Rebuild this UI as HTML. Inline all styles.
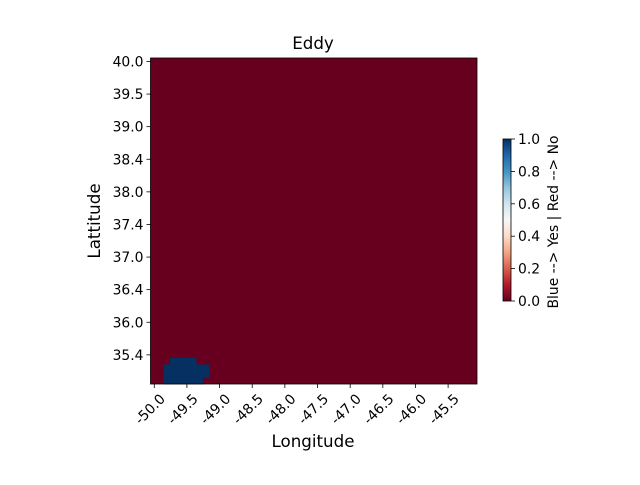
<!DOCTYPE html>
<html><head><meta charset="utf-8"><style>
body{margin:0;background:#fff;font-family:"Liberation Sans","DejaVu Sans",sans-serif;}
svg text{font-family:"DejaVu Sans","Liberation Sans",sans-serif;}
</style></head><body>
<svg id="chart" width="640" height="480" xmlns="http://www.w3.org/2000/svg">
<defs><linearGradient id="rdbu" x1="0" y1="1" x2="0" y2="0">
<stop offset="0" stop-color="#67001f"/><stop offset="0.1" stop-color="#b2182b"/><stop offset="0.2" stop-color="#d6604d"/><stop offset="0.3" stop-color="#f4a582"/><stop offset="0.4" stop-color="#fddbc7"/><stop offset="0.5" stop-color="#f7f7f7"/><stop offset="0.6" stop-color="#d1e5f0"/><stop offset="0.7" stop-color="#92c5de"/><stop offset="0.8" stop-color="#4393c3"/><stop offset="0.9" stop-color="#2166ac"/><stop offset="1" stop-color="#053061"/></linearGradient></defs>
<text x="313" y="49" text-anchor="middle" font-size="16.7">Eddy</text>
<g id="plot"></g>
<text x="313" y="447" text-anchor="middle" font-size="16.7">Longitude</text>
<text transform="translate(100,221) rotate(-90)" text-anchor="middle" font-size="16.7">Lattitude</text>
<rect x="503" y="139" width="8" height="162" fill="url(#rdbu)" stroke="#000" stroke-width="0.8"/>
<g id="cbar"></g>
<text transform="translate(558,222) rotate(-90)" text-anchor="middle" font-size="13.9">Blue --&gt; Yes | Red --&gt; No</text>
</svg>
<script>
const nCols = 50, nRows = 50;
// eddy cells: [row-from-top, colStart, colEnd inclusive]
const eddyRows = [46, 47, 48, 49];
const eddyColStart = [3, 2, 2, 2];
const eddyColEnd = [6, 8, 8, 7];
const xTickLabels = ["-50.0","-49.5","-49.0","-48.5","-48.0","-47.5","-47.0","-46.5","-46.0","-45.5"];
const xTickIdx = [0.5,5.5,10.5,15.5,20.5,25.5,30.5,35.5,40.5,45.5];
const yTickLabels = ["40.0","39.5","39.0","38.4","38.0","37.4","37.0","36.4","36.0","35.4"];
const yTickIdx = [0.5,5.5,10.5,15.5,20.5,25.5,30.5,35.5,40.5,45.5];
const cbTicks = [0.0,0.2,0.4,0.6,0.8,1.0];

const L=150.5,T=58,W=326.5,H=326;
const xs=c=>L+c*W/nCols, ys=r=>T+r*H/nRows;
const NS="http://www.w3.org/2000/svg";
const g=document.getElementById('plot');
function mk(tag,attrs,parent){const e=document.createElementNS(NS,tag);for(const k in attrs)e.setAttribute(k,attrs[k]);parent.appendChild(e);return e;}
let bg=mk('rect',{x:L,y:T,width:W,height:H,fill:'#67001f'},g);


eddyRows.forEach((r,i)=>{
  const c=mk('rect',{x:xs(eddyColStart[i]),y:ys(r),width:xs(eddyColEnd[i]+1)-xs(eddyColStart[i])+0.3,height:ys(r+1)-ys(r)+0.3,fill:'#053061'},g);
  
  
});
let fr=mk('rect',{x:L,y:T,width:W,height:H,fill:'none',stroke:'#000','stroke-width':0.8},g);


xTickLabels.forEach((t,i)=>{
  const x=xs(xTickIdx[i])+0.5;
  mk('line',{x1:x,x2:x,y1:T+H,y2:T+H+4,stroke:'#000','stroke-width':0.8},g);
  const tx=mk('text',{transform:`translate(${x+5},${T+H+9}) rotate(-45)`,'text-anchor':'end','font-size':13.9,'dominant-baseline':'hanging'},g);
  tx.textContent=t;
  
  
});
yTickLabels.forEach((t,i)=>{
  const y=ys(yTickIdx[i])+0.2;
  mk('line',{x1:L-4,x2:L,y1:y,y2:y,stroke:'#000','stroke-width':0.8},g);
  const tx=mk('text',{x:L-7,y:y+5,'text-anchor':'end','font-size':13.9},g);
  tx.textContent=t;
  
  
});
const cb=document.getElementById('cbar');
cbTicks.forEach(v=>{
  const y=301-v*162;
  mk('line',{x1:511,x2:515,y1:y,y2:y,stroke:'#000','stroke-width':0.8},cb);
  const tx=mk('text',{x:518,y:y+5,'font-size':13.9},cb);
  tx.textContent=v.toFixed(1);
  
  
});
</script>
</body></html>
